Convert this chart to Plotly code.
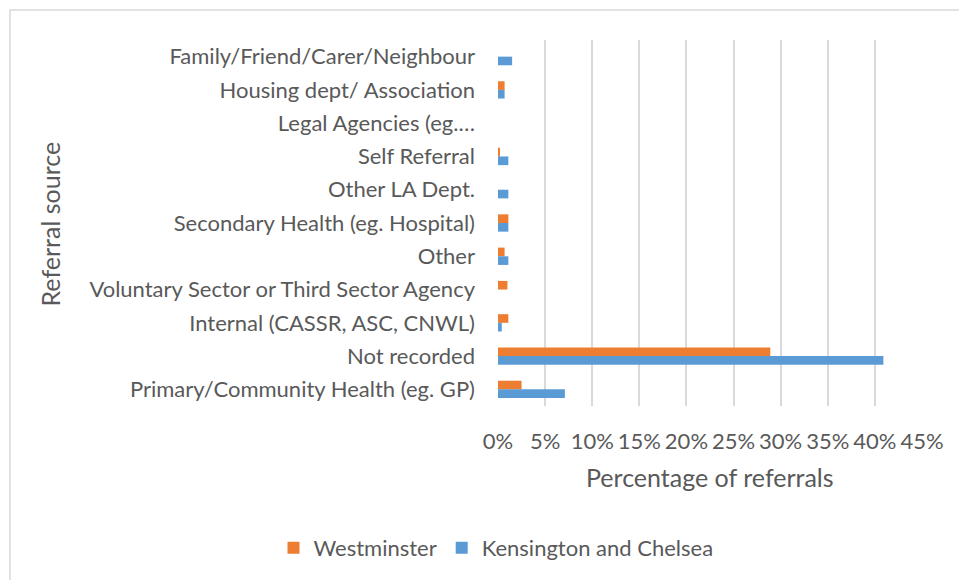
import plotly.graph_objects as go

# Referral sources, listed top to bottom
categories = [
    "Family/Friend/Carer/Neighbour",
    "Housing dept/ Association",
    "Legal Agencies (eg.…",
    "Self Referral",
    "Other LA Dept.",
    "Secondary Health (eg. Hospital)",
    "Other",
    "Voluntary Sector or Third Sector Agency",
    "Internal (CASSR, ASC, CNWL)",
    "Not recorded",
    "Primary/Community Health (eg. GP)",
]

# Percentage of referrals by borough
westminster = [0.0, 0.7, 0.0, 0.2, 0.0, 1.1, 0.7, 1.0, 1.1, 28.9, 2.5]
kensington_chelsea = [1.5, 0.7, 0.0, 1.1, 1.1, 1.1, 1.1, 0.0, 0.4, 40.9, 7.1]

x_ticks = list(range(0, 50, 5))
x_tick_labels = [f"{v}%" for v in x_ticks]

FONT = "Lato"
GREY = "#595959"
TICK_SIZE = 22
TITLE_SIZE = 25

# plot area in pixels
L, R, T, B = 498, 922, 40, 407
W, H = 959, 580


def px_x(px):
    return (px - L) / (R - L)


def px_y(py):
    return (B - py) / (B - T)


fig = go.Figure()
fig.add_trace(go.Bar(
    y=categories, x=westminster, orientation="h", name="Westminster",
    marker=dict(color="#ED7D31", line=dict(width=0)),
))
fig.add_trace(go.Bar(
    y=categories, x=kensington_chelsea, orientation="h",
    name="Kensington and Chelsea",
    marker=dict(color="#5B9BD5", line=dict(width=0)),
))

fig.update_layout(
    width=W, height=H,
    margin=dict(l=L, r=W - R, t=T, b=H - B),
    paper_bgcolor="white", plot_bgcolor="white",
    barmode="group", bargap=0.48, bargroupgap=0,
    font=dict(family=FONT, size=TICK_SIZE, color=GREY),
    showlegend=True,
    legend=dict(
        orientation="h", x=px_x(496), xanchor="center",
        y=px_y(548), yanchor="middle",
        font=dict(size=TICK_SIZE, color=GREY), itemwidth=30,
    ),
    xaxis=dict(
        range=[0, 45], tickmode="array", tickvals=x_ticks,
        ticktext=x_tick_labels,
        showgrid=True, gridcolor="#D9D9D9", gridwidth=1.5,
        zeroline=False, showline=False, ticks="",
        ticklabelstandoff=20, tickfont=dict(size=TICK_SIZE, color=GREY),
    ),
    yaxis=dict(
        autorange="reversed", showgrid=False, zeroline=False,
        showline=False, ticks="", ticklabelstandoff=22,
        tickfont=dict(size=TICK_SIZE, color=GREY),
    ),
    annotations=[
        dict(text="Percentage of referrals", xref="paper", yref="paper",
             x=px_x(710), y=px_y(478), showarrow=False,
             xanchor="center", yanchor="middle",
             font=dict(size=TITLE_SIZE, color=GREY)),
        dict(text="Referral source", xref="paper", yref="paper",
             x=px_x(50), y=px_y(225), showarrow=False, textangle=-90,
             xanchor="center", yanchor="middle",
             font=dict(size=TITLE_SIZE, color=GREY)),
    ],
    shapes=[
        dict(type="rect", xref="paper", yref="paper",
             x0=px_x(10), x1=px_x(975), y0=px_y(600), y1=px_y(10),
             line=dict(color="#D9D9D9", width=1.5), layer="below"),
    ],
)

fig.write_html("out.html")
